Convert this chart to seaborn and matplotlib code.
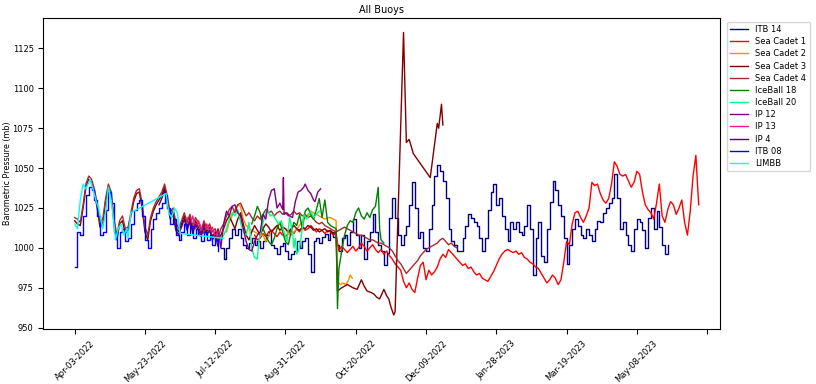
import matplotlib
matplotlib.use('Agg')
import matplotlib.pyplot as plt
import seaborn as sns
import pandas as pd

BASE = pd.Timestamp('2022-04-03')

buoys = ['ITB 14', 'Sea Cadet 1', 'Sea Cadet 2', 'Sea Cadet 3', 'Sea Cadet 4',
         'IceBall 18', 'IceBall 20', 'IP 12', 'IP 13', 'IP 4', 'ITB 08', 'LIMBB']
colors = ['navy', 'red', 'darkorange', 'maroon', 'brown', 'green', 'springgreen',
          'purple', 'deeppink', 'indigo', 'blue', 'cyan']

tick_labels = ['Apr-03-2022', 'May-23-2022', 'Jul-12-2022', 'Aug-31-2022', 'Oct-20-2022',
               'Dec-09-2022', 'Jan-28-2023', 'Mar-19-2023', 'May-08-2023', '']
tick_step_days = 50

# ---- ITB 14 (every 2 days from day 104) ----
itb14_start = 104
itb14_vals = [1000, 993, 1000, 1006, 1012, 1008, 1012, 1006, 1002, 1000, 1003, 1006, 1002, 1004, 1000, 1004,
              1008, 1010, 1002, 1000, 996, 1001, 1003, 998, 993, 996, 998, 1004, 1000, 1004, 1006, 996,
              985, 1004, 1006, 1003, 1007, 1009, 1005, 1010, 1007, 1002, 998, 1006, 1008, 1002, 1010, 1018,
              1008, 1000, 1008, 993, 1004, 1010, 1021, 1010, 1002, 998, 989, 997, 1019, 1031, 1019, 1008,
              1002, 1008, 1014, 1027, 1041, 1025, 1006, 1010, 1000, 998, 1012, 1027, 1045, 1052, 1048, 1042,
              1031, 1012, 1004, 1002, 998, 998, 1006, 1014, 1021, 1019, 1016, 1014, 1006, 998, 1006, 1024,
              1035, 1040, 1027, 1031, 1020, 1012, 1004, 1016, 1012, 1016, 1010, 1008, 1014, 1027, 1012, 983,
              1006, 1016, 995, 991, 1012, 1029, 1042, 1036, 1027, 1020, 1006, 990, 1002, 1012, 1018, 1014,
              1008, 1006, 1012, 1008, 1004, 1012, 1017, 1016, 1022, 1025, 1028, 1031, 1046, 1031, 1012, 1016,
              1008, 1002, 998, 1012, 1018, 1016, 1011, 1000, 1019, 1025, 1012, 1023, 1013, 1002, 996, 1002]

# ---- Sea Cadet 1 (every 2 days from day 128) ----
sc1_start = 128
sc1_vals = [1008, 1005, 1006, 1009, 1007, 1010, 1011, 1009, 1007, 1010, 1008, 1007, 1009, 1011, 1009, 1012,
            1010, 1013, 1011, 1012, 1014, 1012, 1010, 1012, 1011, 1009, 1011, 1010, 1008, 1009, 998, 1001,
            999, 997, 999, 1001, 998, 1000, 1003, 1001, 998, 1000, 1002, 999, 997, 999, 996, 998,
            995, 993, 990, 988, 986, 979, 975, 978, 974, 972, 981, 989, 991, 980, 986, 983,
            985, 988, 993, 996, 994, 999, 997, 995, 993, 991, 989, 990, 987, 988, 985, 983,
            984, 981, 980, 979, 982, 985, 989, 993, 996, 998, 999, 998, 997, 998, 996, 997,
            994, 993, 991, 990, 988, 987, 984, 981, 978, 980, 983, 981, 977, 980, 991, 1004,
            1002, 1015, 1022, 1023, 1019, 1016, 1020, 1025, 1041, 1039, 1040, 1034, 1030, 1028, 1031, 1040,
            1054, 1051, 1046, 1045, 1046, 1042, 1038, 1041, 1048, 1046, 1035, 1027, 1024, 1022, 1018, 1028,
            1040, 1020, 1016, 1024, 1029, 1027, 1021, 1025, 1030, 1016, 1008, 1023, 1045, 1058, 1027]

# ---- Sea Cadet 2 ----
sc2_days = [108, 110, 112, 114, 116, 118, 120, 122, 124, 126, 128, 130, 132, 134, 136, 138, 140, 142, 144,
            146, 148, 150, 152, 154, 156, 158, 160, 162, 164, 166, 168, 170, 172, 174, 176, 178, 180, 182,
            184, 186, 187, 189, 191, 193, 195, 196, 197.5]
sc2_vals = [1010, 1016, 1020, 1024, 1027, 1026, 1018, 1014, 1012, 1011, 1010, 1009, 1008, 1008, 1004, 1007,
            1011, 1012, 1014, 1016, 1013, 1012, 1009, 1008, 1010, 1012, 1014, 1017, 1019, 1021, 1023, 1022,
            1021, 1020, 1019, 1018, 1019, 1019, 1018, 1017, 979, 977, 978, 977, 980, 983, 981]

# ---- Sea Cadet 3 (every 2 days from day 0, then irregular tail) ----
sc3_head = [1017, 1015, 1014, 1025, 1038, 1043, 1041, 1035, 1025, 1013, 1015, 1029, 1038, 1033, 1015, 1005,
            1015, 1017, 1009, 1011, 1020, 1029, 1034, 1035, 1025, 1010, 1005, 1017, 1023, 1027, 1030, 1033,
            1038, 1030, 1020, 1023, 1013, 1010, 1015, 1020, 1013, 1019, 1011, 1017, 1013, 1009, 1015, 1010,
            1013, 1007, 1010, 1004,
            1008, 1012, 1017, 1020, 1016, 1012, 1018, 1022, 1015, 1008, 1005, 1010, 1014, 1011, 1008, 1012,
            1015, 1013, 1010, 1012, 1014, 1011, 1013, 1012, 1010, 1012, 1014, 1012, 1011, 1013, 1012, 1014,
            1013, 1011, 1012, 1010, 1011, 1012, 1010, 1011, 1009, 1010]
sc3_tail_days = [187, 190, 194, 198, 201, 204, 206, 208, 211, 213, 215, 217, 220, 222, 223.5, 225, 227, 228,
                 234, 236, 238, 241, 253, 258, 259, 261, 262]
sc3_tail_vals = [973, 975, 977, 975, 974, 980, 976, 973, 972, 971, 969, 968, 974, 970, 968, 963, 958, 960,
                 1135, 1066, 1068, 1059, 1044, 1078, 1075, 1090, 1077]

# ---- Sea Cadet 4 (every 2 days from day 0) ----
sc4_vals = [1019, 1018, 1016, 1027, 1040, 1045, 1043, 1037, 1028, 1016, 1018, 1031, 1040, 1035, 1018, 1008,
            1017, 1020, 1012, 1013, 1022, 1031, 1036, 1037, 1028, 1013, 1008, 1019, 1025, 1029, 1032, 1035,
            1040, 1032, 1022, 1025, 1016, 1012, 1017, 1022, 1016, 1021, 1014, 1019, 1016, 1011, 1017, 1012,
            1015, 1010, 1012, 1006,
            1012, 1015, 1020, 1024, 1026, 1022, 1027, 1028, 1024, 1020, 1022, 1019, 1017, 1020, 1018, 1021,
            1024, 1022, 1023, 1020, 1022, 1023, 1021, 1022, 1020, 1021, 1023, 1021, 1022, 1020, 1021, 1019,
            1020, 1018, 1016, 1015, 1016, 1014, 1013, 1012, 1011, 1010, 1011, 1012, 1013, 1012, 1011, 1010,
            1009, 1008, 1008, 1007, 1006, 1005, 1005, 1004, 1003, 1003, 1002, 1001, 1000, 998, 995, 992,
            990, 987, 984, 986, 988, 990, 992, 995, 997, 999, 1000, 1001, 1002, 1003, 1005, 1006,
            1004, 1002, 1003, 1001, 1000]

# ---- IceBall 18 ----
ib18_days = [126, 128, 130, 132, 134, 136, 138, 140, 142, 144, 146, 148, 150, 152, 154, 156, 158, 160, 162,
             164, 166, 168, 170, 172, 174, 176, 178, 180, 182, 184, 186, 187, 188, 190, 192, 194, 196, 198,
             200, 202, 204, 206, 208, 210, 212, 214, 216, 217, 218, 220]
ib18_vals = [1015, 1020, 1026, 1022, 1012, 1008, 1004, 1002, 1006, 1012, 1016, 1010, 1004, 1002, 1010, 1016,
             1014, 1021, 1012, 1023, 1025, 1021, 1018, 1024, 1031, 1019, 1030, 1016, 1014, 1013, 1012, 962,
             987, 998, 1008, 1014, 1017, 1016, 1022, 1025, 1020, 1018, 1022, 1019, 1024, 1026, 1038, 1012,
             1005, 1003]

# ---- IceBall 20 ----
ib20_days = [100, 102, 104, 106, 108, 110, 112, 114, 116, 118, 120, 122, 124, 126, 128, 130, 131, 133, 135,
             137, 139, 141, 143, 145, 147, 149, 151, 153, 155, 156, 157, 158, 160, 162, 163, 165, 167, 168,
             170, 172, 174]
ib20_vals = [1006, 1010, 1005, 1008, 1012, 1018, 1022, 1020, 1024, 1016, 1010, 1008, 1016, 1000, 994, 993,
             1004, 1012, 1019, 1025, 1020, 1021, 1018, 1015, 1017, 1010, 1004, 1019, 1010, 1000, 1006, 996,
             1000, 1012, 1021, 1018, 1021, 1023, 1019, 1021, 1023]

# ---- IP 12 ----
ip12_days = [100, 102, 104, 106, 108, 110, 112, 114, 116, 118, 120, 122, 124, 126, 128, 130, 132, 134, 136,
             138, 140, 142, 144, 146, 148, 148.5, 149, 151, 153, 155, 157, 159, 161, 163, 164, 166, 168, 170,
             171, 173, 175]
ip12_vals = [1005, 1012, 1000, 1015, 1023, 1020, 1026, 1027, 1022, 1020, 1012, 1004, 999, 998, 1004, 1008,
             1010, 1021, 1018, 1030, 1036, 1037, 1025, 1028, 1024, 1044, 1021, 1022, 1020, 1019, 1029, 1035,
             1036, 1038, 1040, 1036, 1034, 1030, 1029, 1035, 1037]

# ---- IP 13 (every 2 days from day 80) ----
ip13_start = 80
ip13_vals = [1019, 1014, 1020, 1012, 1017, 1013, 1009, 1015, 1010, 1013, 1007, 1010]

# ---- IP 4 (every 2 days from day 60) ----
ip4_start = 60
ip4_vals = [1027, 1031, 1036, 1028, 1018, 1021, 1011, 1008, 1013, 1018, 1011, 1017, 1009, 1015, 1011, 1007,
            1013, 1008, 1011, 1005, 1008, 1001]

# ---- ITB 08 (every 2 days from day 0) ----
itb08_vals = [988, 1010, 1008, 1020, 1033, 1038, 1036, 1030, 1020, 1008, 1010, 1024, 1035, 1028, 1010, 1000,
              1010, 1012, 1004, 1006, 1015, 1024, 1028, 1030, 1020, 1005, 1000, 1012, 1018, 1022, 1025, 1028,
              1033, 1025, 1015, 1018, 1008, 1005, 1010, 1015, 1008, 1014, 1006, 1012, 1008, 1004, 1010, 1005,
              1008, 1002, 1005, 998]

# ---- LIMBB ----
limbb_days = [0, 2, 4, 6, 8, 10, 11, 13, 15, 17, 19, 20, 22, 24, 26, 28, 29, 31, 33, 35, 37, 38, 40,
              65, 67, 69, 71, 73, 75, 106]
limbb_vals = [1015, 1012, 1030, 1040, 1037, 1041, 1043, 1037, 1030, 1025, 1016, 1012, 1022, 1038, 1030, 1015,
              1005, 1012, 1015, 1008, 1012, 1006, 1022, 1034, 1022, 1019, 1025, 1022, 1009, 1006]

stepped = ['ITB 14', 'ITB 08']


def reg_days(start, vals, step=2):
    return [start + step * i for i in range(len(vals))]


series = {
    'ITB 14': (reg_days(itb14_start, itb14_vals), itb14_vals),
    'Sea Cadet 1': (reg_days(sc1_start, sc1_vals), sc1_vals),
    'Sea Cadet 2': (sc2_days, sc2_vals),
    'Sea Cadet 3': (reg_days(0, sc3_head) + sc3_tail_days, sc3_head + sc3_tail_vals),
    'Sea Cadet 4': (reg_days(0, sc4_vals), sc4_vals),
    'IceBall 18': (ib18_days, ib18_vals),
    'IceBall 20': (ib20_days, ib20_vals),
    'IP 12': (ip12_days, ip12_vals),
    'IP 13': (reg_days(ip13_start, ip13_vals), ip13_vals),
    'IP 4': (reg_days(ip4_start, ip4_vals), ip4_vals),
    'ITB 08': (reg_days(0, itb08_vals), itb08_vals),
    'LIMBB': (limbb_days, limbb_vals),
}

frames = []
for name in buoys:
    d, v = series[name]
    frames.append(pd.DataFrame({
        'date': BASE + pd.to_timedelta(d, unit='D'),
        'pressure': v,
        'buoy': name,
    }))
df = pd.concat(frames, ignore_index=True)

fig = plt.figure(figsize=(8.16, 3.84), dpi=100)
ax = fig.add_axes([0.0531, 0.1432, 0.8293, 0.8091])

sns.lineplot(data=df, x='date', y='pressure', hue='buoy', hue_order=buoys,
             palette=dict(zip(buoys, colors)), estimator=None, sort=False,
             linewidth=1.0, ax=ax)

for line, name in zip(ax.lines, buoys):
    if name in stepped:
        line.set_drawstyle('steps-post')

ax.set_xlim(BASE - pd.Timedelta(days=22.3), BASE + pd.Timedelta(days=459.2))
ticks = [BASE + pd.Timedelta(days=tick_step_days * i) for i in range(len(tick_labels))]
ax.set_xticks(ticks)
ax.set_xticklabels(tick_labels, rotation=45, fontsize=6.0)
ax.tick_params(axis='y', labelsize=6.0)
ax.set_yticks([950, 975, 1000, 1025, 1050, 1075, 1100, 1125])
ax.set_xlabel('')
ax.set_ylabel('Barometric Pressure (mb)', fontsize=5.8)
ax.yaxis.set_label_coords(-0.046, 0.5)
ax.set_title('All Buoys', fontsize=7, pad=4)

sns.move_legend(ax, 'upper left', bbox_to_anchor=(1.0104, 0.989), borderaxespad=0.0,
                title=None, fontsize=6.0, frameon=True, labelspacing=0.38,
                handlelength=2.15, handletextpad=0.85)

fig.savefig('out.png', dpi=100)
